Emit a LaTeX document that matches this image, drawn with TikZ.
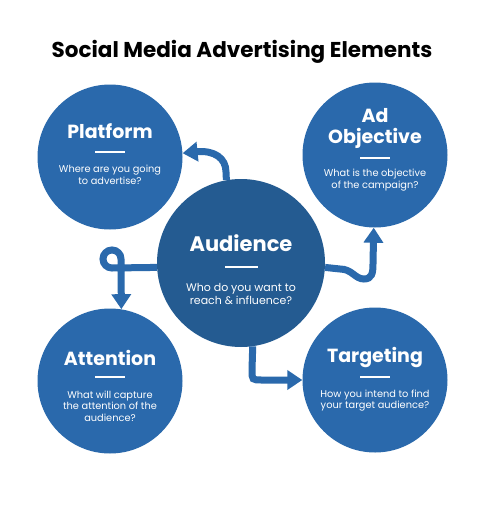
\documentclass[tikz,border=0pt]{standalone}
\usepackage{fontspec}
\setmainfont{Poppins}
\usetikzlibrary{arrows.meta}
\definecolor{ringblue}{HTML}{2A69AC}
\definecolor{hubblue}{HTML}{245B91}
\begin{document}
\begin{tikzpicture}[x=1pt,y=-1pt,
  bubble/.style={circle,fill=ringblue,minimum size=145pt,inner sep=0pt},
  hub/.style={circle,fill=hubblue,minimum size=168pt,inner sep=0pt},
  heading/.style={text=white,font=\bfseries\fontsize{19}{21}\selectfont,align=center,inner sep=0pt},
  note/.style={text=white,font=\fontsize{9.8}{11.5}\selectfont,align=center,inner sep=0pt},
  bignote/.style={text=white,font=\fontsize{11}{13}\selectfont,align=center,inner sep=0pt},
  rule/.style={draw=white,line width=1.2pt},
  conn/.style={draw=ringblue,line width=7pt},
  tip/.style={-{Triangle[width=19pt,length=15pt]}}
]
\useasboundingbox (0,0) rectangle (484,515);
\fill[white] (0,0) rectangle (484,515);

% title
\node[font=\bfseries\fontsize{21.5}{21.5}\selectfont,inner sep=0pt] (title) at (242,52) {Social Media Advertising Elements};

% circles
\node[bubble] (plat) at (110,157) {};
\node[bubble] (obj) at (375,155) {};
\node[bubble] (att) at (110,381) {};
\node[bubble] (tgt) at (375,380) {};
\node[hub] (aud) at (241,263) {};

% connectors
\draw[conn,tip] (aud.100) -- (226,172) .. controls (226,158) and (214,150) .. (plat.3);
\draw[conn,tip] (aud.183) -- (112,268)
  .. controls (107,268) and (103,264) .. (103,259)
  .. controls (103,254) and (107,250) .. (112,250)
  .. controls (117,250) and (121,254) .. (121,259)
  -- (att.81);
\draw[conn,tip] (aud.-3) -- (340,269) .. controls (352,269) and (355,279) .. (364,279)
  .. controls (372,279) and (373,273) .. (373,264) -- (obj.-91);
\draw[conn,tip] (aud.-82) -- (252,370) .. controls (252,380) .. (262,380) -- (tgt.west);

% Platform
\node[heading] (platT) at (110,131) {Platform};
\draw[rule] (95,152) -- (125,152);
\node[note] (platD) at (110,175) {Where are you going\\to advertise?};

% Ad Objective
\node[heading] (objT) at (375,128) {Ad\\Objective};
\draw[rule] (360,158) -- (390,158);
\node[note] (objD) at (375,180) {What is the objective\\of the campaign?};

% Audience
\node[heading,font=\bfseries\fontsize{21}{21}\selectfont] (audT) at (241,243) {Audience};
\draw[rule] (225,267) -- (258,267);
\node[bignote] (audD) at (241,293.5) {Who do you want to\\reach \& influence?};

% Attention
\node[heading] (attT) at (110,358) {Attention};
\draw[rule] (95,377) -- (125,377);
\node[note] (attD) at (110,406) {What will capture\\the attention of the\\audience?};

% Targeting
\node[heading] (tgtT) at (375,357) {Targeting};
\draw[rule] (360,377) -- (390,377);
\node[note] (tgtD) at (375,400.5) {How you intend to find\\your target audience?};
\end{tikzpicture}
\end{document}
